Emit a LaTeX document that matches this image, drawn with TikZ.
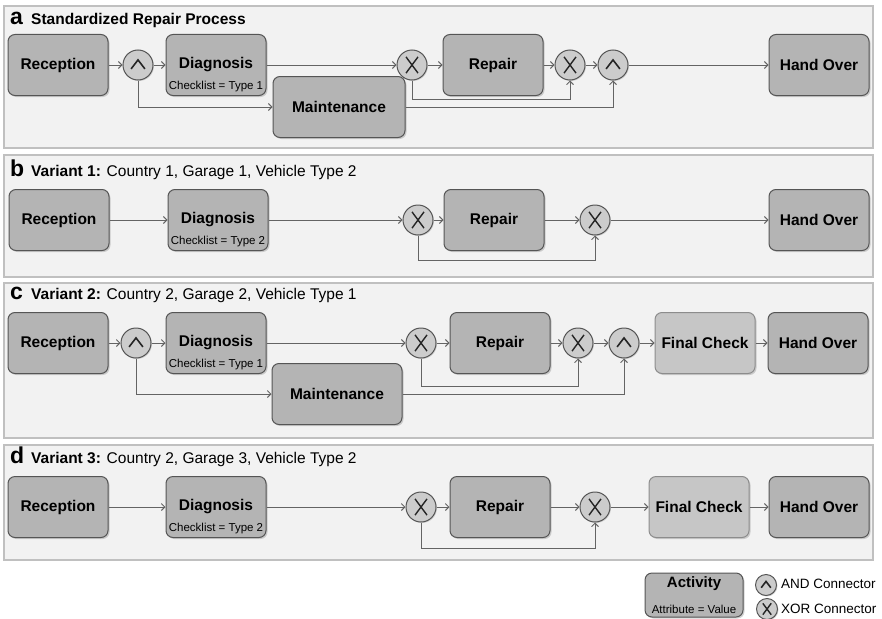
\documentclass[tikz,border=0pt]{standalone}
\usepackage{fontspec}
\setmainfont{Liberation Sans}
\usetikzlibrary{arrows.meta,shadows,calc}
\definecolor{panelbg}{RGB}{242,242,242}
\definecolor{panelline}{RGB}{192,192,192}
\definecolor{boxfill}{RGB}{180,180,180}
\definecolor{lightfill}{RGB}{198,198,198}
\definecolor{gatefill}{RGB}{204,204,204}
\definecolor{linec}{RGB}{85,85,85}
\definecolor{lightline}{RGB}{140,140,140}
\definecolor{flowc}{RGB}{100,100,100}
\tikzset{
  panel/.style={fill=panelbg, draw=panelline, line width=1.5pt},
  act/.style={rounded corners=7pt, draw=linec, fill=boxfill, line width=1pt,
    drop shadow={shadow xshift=1.5pt, shadow yshift=-1.5pt, opacity=0.35},
    font=\bfseries\fontsize{15.5}{18}\selectfont, minimum width=100pt, minimum height=61pt,
    inner sep=2pt, align=center},
  actlight/.style={act, fill=lightfill, draw=lightline},
  attr/.style={font=\fontsize{11.5}{13}\selectfont, inner sep=1pt, anchor=south, yshift=3pt},
  gate/.style={circle, draw=linec, fill=gatefill, line width=1pt, inner sep=0pt,
    drop shadow={shadow xshift=1pt, shadow yshift=-1pt, opacity=0.3}},
  andg/.style={gate, minimum size=#1, path picture={\draw[line width=1.6pt, black!85, line join=miter]
    ([xshift=-0.23*#1, yshift=-0.13*#1]path picture bounding box.center) --
    ([yshift=0.17*#1]path picture bounding box.center) --
    ([xshift=0.23*#1, yshift=-0.13*#1]path picture bounding box.center);}},
  andg/.default=30pt,
  xorg/.style={gate, minimum size=#1, path picture={\draw[line width=1.4pt, black!85]
    ([xshift=-0.2*#1, yshift=-0.27*#1]path picture bounding box.center) --
    ([xshift=0.2*#1, yshift=0.27*#1]path picture bounding box.center)
    ([xshift=-0.2*#1, yshift=0.27*#1]path picture bounding box.center) --
    ([xshift=0.2*#1, yshift=-0.27*#1]path picture bounding box.center);}},
  xorg/.default=30pt,
  flow/.style={draw=flowc, line width=0.9pt, -{Straight Barb[length=3.5pt,width=7pt]}},
  letter/.style={font=\bfseries\fontsize{23}{26}\selectfont, anchor=base west, inner sep=0pt},
  ttl/.style={font=\fontsize{15.5}{18}\selectfont, anchor=base west, inner sep=0pt},
  legtxt/.style={font=\fontsize{13.5}{16}\selectfont, anchor=west, inner sep=0pt}
}
\begin{document}
\begin{tikzpicture}[x=1pt,y=-1pt]
\useasboundingbox (0,0) rectangle (882,618);
\fill[white] (0,0) rectangle (882,618);

% ---------------- panel a
\draw[panel] (4,6) rectangle (873,148);
\node[letter] (a-l) at (10,25) {a};
\node[ttl] (a-t) at (31,25) {\bfseries Standardized Repair Process};
\node[act] (a-rec) at (58,65) {Reception};
\node[andg] (a-and1) at (138,65) {};
\node[act, label={[attr]south:Checklist = Type 1}] (a-diag) at (216,65) {Diagnosis};
\node[act, minimum width=132pt] (a-maint) at (339,107) {Maintenance};
\node[xorg] (a-xor1) at (412,65) {};
\node[act] (a-rep) at (493,65) {Repair};
\node[xorg] (a-xor2) at (570,65) {};
\node[andg] (a-and2) at (613,65) {};
\node[act] (a-hand) at (819,65) {Hand Over};
\draw[flow] (a-rec) -- (a-and1);
\draw[flow] (a-and1) -- (a-diag);
\draw[flow] (a-diag) -- (a-xor1);
\draw[flow] (a-xor1) -- (a-rep);
\draw[flow] (a-rep) -- (a-xor2);
\draw[flow] (a-xor2) -- (a-and2);
\draw[flow] (a-and2) -- (a-hand);
\draw[flow] (a-and1.south) |- (a-maint.west);
\draw[flow] (a-xor1.south) -- (a-xor1.south |- 0,99) -| (a-xor2.south);
\draw[flow] (a-maint.east) -| (a-and2.south);

% ---------------- panel b
\draw[panel] (4,155) rectangle (873,277);
\node[letter] (b-l) at (10,176) {b};
\node[ttl] (b-t) at (31,176) {\textbf{Variant 1:} Country 1, Garage 1, Vehicle Type 2};
\node[act] (b-rec) at (59,220) {Reception};
\node[act, label={[attr]south:Checklist = Type 2}] (b-diag) at (218,220) {Diagnosis};
\node[xorg] (b-xor1) at (418,220) {};
\node[act] (b-rep) at (494,220) {Repair};
\node[xorg] (b-xor2) at (595,220) {};
\node[act] (b-hand) at (819,220) {Hand Over};
\draw[flow] (b-rec) -- (b-diag);
\draw[flow] (b-diag) -- (b-xor1);
\draw[flow] (b-xor1) -- (b-rep);
\draw[flow] (b-rep) -- (b-xor2);
\draw[flow] (b-xor2) -- (b-hand);
\draw[flow] (b-xor1.south) -- (b-xor1.south |- 0,260) -| (b-xor2.south);

% ---------------- panel c
\draw[panel] (4,283) rectangle (873,438);
\node[letter] (c-l) at (10,299) {c};
\node[ttl] (c-t) at (31,299) {\textbf{Variant 2:} Country 2, Garage 2, Vehicle Type 1};
\node[act] (c-rec) at (58,343) {Reception};
\node[andg] (c-and1) at (136,343) {};
\node[act, label={[attr]south:Checklist = Type 1}] (c-diag) at (216,343) {Diagnosis};
\node[act, minimum width=130pt] (c-maint) at (337,394) {Maintenance};
\node[xorg] (c-xor1) at (421,343) {};
\node[act] (c-rep) at (500,343) {Repair};
\node[xorg] (c-xor2) at (578,343) {};
\node[andg] (c-and2) at (624,343) {};
\node[actlight] (c-fc) at (705,343) {Final Check};
\node[act] (c-hand) at (818,343) {Hand Over};
\draw[flow] (c-rec) -- (c-and1);
\draw[flow] (c-and1) -- (c-diag);
\draw[flow] (c-diag) -- (c-xor1);
\draw[flow] (c-xor1) -- (c-rep);
\draw[flow] (c-rep) -- (c-xor2);
\draw[flow] (c-xor2) -- (c-and2);
\draw[flow] (c-and2) -- (c-fc);
\draw[flow] (c-fc) -- (c-hand);
\draw[flow] (c-and1.south) |- (c-maint.west);
\draw[flow] (c-xor1.south) -- (c-xor1.south |- 0,386) -| (c-xor2.south);
\draw[flow] (c-maint.east) -| (c-and2.south);

% ---------------- panel d
\draw[panel] (4,445) rectangle (873,560);
\node[letter] (d-l) at (10,463) {d};
\node[ttl] (d-t) at (31,463) {\textbf{Variant 3:} Country 2, Garage 3, Vehicle Type 2};
\node[act] (d-rec) at (58,507) {Reception};
\node[act, label={[attr]south:Checklist = Type 2}] (d-diag) at (216,507) {Diagnosis};
\node[xorg] (d-xor1) at (421,507) {};
\node[act] (d-rep) at (500,507) {Repair};
\node[xorg] (d-xor2) at (595,507) {};
\node[actlight] (d-fc) at (699,507) {Final Check};
\node[act] (d-hand) at (819,507) {Hand Over};
\draw[flow] (d-rec) -- (d-diag);
\draw[flow] (d-diag) -- (d-xor1);
\draw[flow] (d-xor1) -- (d-rep);
\draw[flow] (d-rep) -- (d-xor2);
\draw[flow] (d-xor2) -- (d-fc);
\draw[flow] (d-fc) -- (d-hand);
\draw[flow] (d-xor1.south) -- (d-xor1.south |- 0,548) -| (d-xor2.south);

% ---------------- legend
\node[act, minimum width=98pt, minimum height=44pt,
  label={[font=\bfseries\fontsize{15}{18}\selectfont, anchor=north, yshift=-3pt, inner sep=1pt]north:Activity},
  label={[attr]south:Attribute = Value}] (leg-act) at (694,595) {};
\node[andg=21pt] (leg-and) at (766,585) {};
\node[xorg=21pt] (leg-xor) at (767,609) {};
\node[legtxt] (leg-andt) at (781,584) {AND Connector};
\node[legtxt] (leg-xort) at (781,609) {XOR Connector};
\end{tikzpicture}
\end{document}
